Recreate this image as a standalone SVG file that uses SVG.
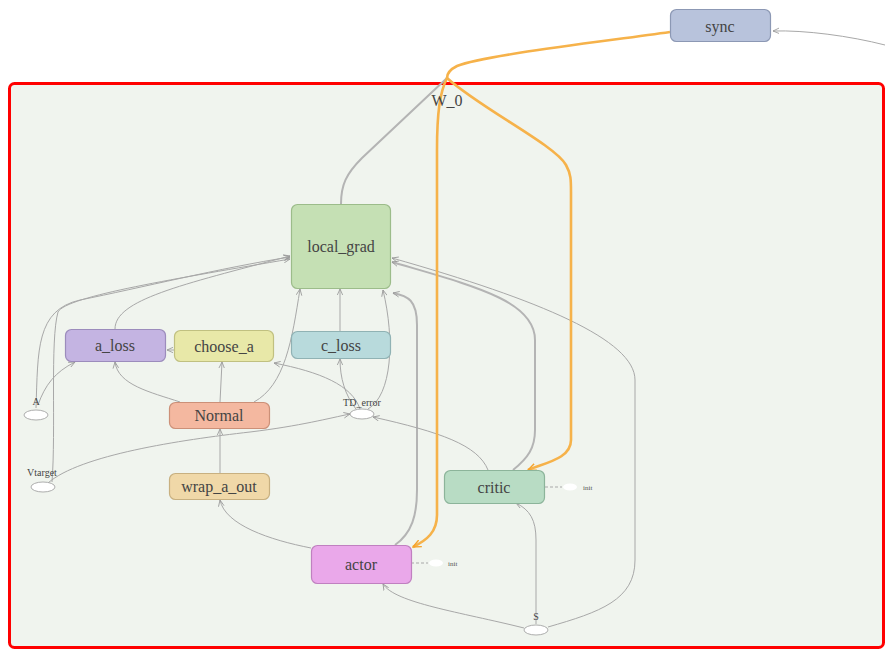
<svg xmlns="http://www.w3.org/2000/svg" width="885" height="650" viewBox="0 0 885 650">
<style>
.nd{stroke-width:1.2}
.lb{font-family:"Liberation Serif","DejaVu Serif",serif;font-size:16px;fill:#444;text-anchor:middle;dominant-baseline:central}
.sm{font-family:"Liberation Serif","DejaVu Serif",serif;font-size:10px;fill:#444;text-anchor:middle}
.tn{font-family:"Liberation Serif",serif;font-size:7px;fill:#555}
.e{fill:none;stroke:#a8a8a8;stroke-width:1}
.t{fill:none;stroke:#b4b4b4;stroke-width:2}
.o{fill:none;stroke:#f6b24a;stroke-width:2.6}
.el{fill:#fff;stroke:#999;stroke-width:0.8}
</style>
<defs>
<marker id="a" viewBox="0 0 10 10" refX="9" refY="5" markerWidth="7" markerHeight="7" orient="auto" markerUnits="userSpaceOnUse"><path d="M0,1 L9,5 L0,9" fill="none" stroke="#999" stroke-width="1.2"/></marker>
<marker id="ao" viewBox="0 0 10 10" refX="9" refY="5" markerWidth="9" markerHeight="9" orient="auto" markerUnits="userSpaceOnUse"><path d="M0,1 L9,5 L0,9" fill="none" stroke="#f6a32a" stroke-width="1.6"/></marker>
</defs>
<rect width="885" height="650" fill="#fff"/>
<rect x="9.5" y="83.5" width="874" height="564" rx="5" fill="#f0f4ee" stroke="#f00" stroke-width="3"/>
<g id="connectors">
<path class="e" d="M885,45 C850,36 805,30 773,31" stroke-width="1.5" marker-end="url(#a)"/>
<path class="t" d="M447,78 L362,158 C346,174 341,185 341,204"/>
<path class="e" d="M36,408 C38,350 36,310 80,300 C140,288 220,268 290,257" marker-end="url(#a)"/>
<path class="e" d="M38,405 C45,385 55,372 75,362" marker-end="url(#a)"/>
<path class="e" d="M52,482 C56,430 50,340 58,312 C66,296 180,278 290,259" marker-end="url(#a)"/>
<path class="e" d="M48,483 C80,455 180,440 250,432 C300,426 330,418 350,414" marker-end="url(#a)"/>
<path class="e" d="M115,329 C115,300 180,285 290,256" marker-end="url(#a)"/>
<path class="e" d="M174,350 L167,350" marker-end="url(#a)"/>
<path class="e" d="M180,402 C150,392 118,385 115,362" marker-end="url(#a)"/>
<path class="e" d="M220,402 L222,362" marker-end="url(#a)"/>
<path class="e" d="M254,402 C285,385 292,340 300,289" marker-end="url(#a)"/>
<path class="e" d="M360,409 C352,385 320,372 274,363" marker-end="url(#a)"/>
<path class="e" d="M220,473 L220,429" marker-end="url(#a)"/>
<path class="e" d="M311,548 C270,540 225,525 220,500" marker-end="url(#a)"/>
<path class="e" d="M356,409 C345,395 340,378 340,359" marker-end="url(#a)"/>
<path class="e" d="M340,331 L340,289" marker-end="url(#a)"/>
<path class="e" d="M368,409 C392,395 395,340 383,290" marker-end="url(#a)"/>
<path class="t" d="M395,545 C412,533 417,515 417,490 L417,325 C417,300 408,296 393,293" marker-end="url(#a)"/>
<path class="e" d="M488,470 C478,445 440,432 373,417" marker-end="url(#a)"/>
<path class="t" d="M513,470 C528,458 535,448 535,430 L535,340 C535,300 470,285 392,262" marker-end="url(#a)"/>
<path class="e" d="M548,627 C600,612 635,600 635,560 L635,380 C635,340 540,300 392,258" marker-end="url(#a)"/>
<path class="e" d="M524,628 C460,612 395,603 383,584" marker-end="url(#a)"/>
<path class="e" d="M536,624 L536,540 C536,520 530,510 516,503" marker-end="url(#a)"/>
<path class="e" d="M545,487 L562,487" stroke-dasharray="3,2"/>
<path class="e" d="M411,563 L428,563" stroke-dasharray="3,2"/>
<path class="o" d="M670,32 C600,42 485,55 457,66 C449,70 447,74 447,78"/>
<path class="o" d="M447,78 C440,92 437,112 437,150 L437,515 C437,532 427,540 413,547" marker-end="url(#ao)"/>
<path class="o" d="M447,78 C480,108 555,145 566,165 C571,174 571,180 571,192 L571,440 C571,458 548,462 528,470" marker-end="url(#ao)"/>
</g>
<g id="sync"><rect class="nd" x="670.5" y="9.5" width="100" height="32" rx="6" fill="#b8c3dc" stroke="#8c98b4"/><text class="lb" x="720" y="26">sync</text></g>
<g id="W_0"><text class="lb" x="447" y="100">W_0</text></g>
<g id="local_grad"><rect class="nd" x="291.5" y="204.5" width="99" height="84" rx="6" fill="#c5e0b4" stroke="#9cbc8a"/><text class="lb" x="341" y="246">local_grad</text></g>
<g id="a_loss"><rect class="nd" x="65.5" y="329.5" width="100" height="32" rx="6" fill="#c4b4e2" stroke="#9c8cbc"/><text class="lb" x="115" y="345">a_loss</text></g>
<g id="choose_a"><rect class="nd" x="174.5" y="330.5" width="99" height="31" rx="6" fill="#e8e8a8" stroke="#c0c080"/><text class="lb" x="224" y="346">choose_a</text></g>
<g id="c_loss"><rect class="nd" x="291.5" y="331.5" width="99" height="27" rx="6" fill="#b8dadc" stroke="#90b2b4"/><text class="lb" x="341" y="345">c_loss</text></g>
<g id="Normal"><rect class="nd" x="169.5" y="402.5" width="100" height="26" rx="6" fill="#f4b8a0" stroke="#cc9078"/><text class="lb" x="219" y="415">Normal</text></g>
<g id="wrap_a_out"><rect class="nd" x="169.5" y="473.5" width="100" height="26" rx="6" fill="#f0d8a8" stroke="#c8b080"/><text class="lb" x="219" y="486">wrap_a_out</text></g>
<g id="critic"><rect class="nd" x="444.5" y="470.5" width="100" height="33" rx="6" fill="#b8dcc4" stroke="#8cb49a"/><text class="lb" x="494" y="487">critic</text></g>
<g id="actor"><rect class="nd" x="311.5" y="545.5" width="100" height="38" rx="6" fill="#eaa8ea" stroke="#c080c0"/><text class="lb" x="361" y="564">actor</text></g>
<g id="A"><ellipse class="el" cx="36" cy="415" rx="12" ry="5"/><text class="sm" x="36" y="405">A</text></g>
<g id="Vtarget"><ellipse class="el" cx="43" cy="487" rx="12" ry="5"/><text class="sm" x="42" y="476">Vtarget</text></g>
<g id="TD_error"><ellipse class="el" cx="362" cy="414" rx="12" ry="5"/><text class="sm" x="362" y="406">TD_error</text></g>
<g id="S"><ellipse class="el" cx="536" cy="630" rx="12" ry="5"/><text class="sm" x="536" y="620">S</text></g>
<g id="critic_init"><ellipse cx="570" cy="487" rx="7" ry="3.5" fill="#fff"/><text class="tn" x="583" y="489.5">init</text></g>
<g id="actor_init"><ellipse cx="436" cy="563" rx="7" ry="3.5" fill="#fff"/><text class="tn" x="448" y="565.5">init</text></g>
</svg>
